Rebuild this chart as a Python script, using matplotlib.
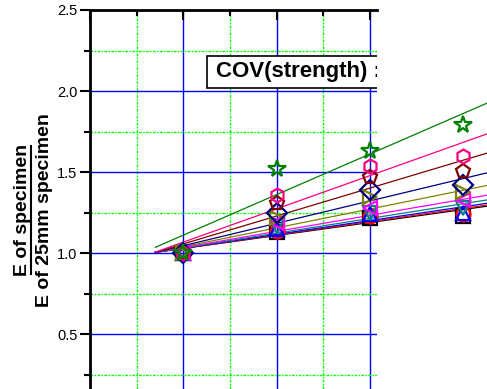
import matplotlib.pyplot as plt
from matplotlib.ticker import MultipleLocator
from matplotlib.patches import Rectangle
import numpy as np

plt.rcParams['font.family'] = ['Liberation Sans', 'DejaVu Sans']

# specimen size index (x) and normalised modulus values
x_vals = [1, 2, 3, 4]

colors = ['#008000', '#FF0080', '#800000', '#000080', '#808000',
          '#FF00FF', '#008080', '#0000FF', '#FF0000', '#000000']
markers = ['*', 'h', 'p', 'D', '>', '<', 'v', '^', 'o', 's']

ratios = [
    [1.00, 1.52, 1.63, 1.79],
    [1.00, 1.36, 1.54, 1.60],
    [1.00, 1.31, 1.47, 1.51],
    [1.00, 1.25, 1.39, 1.42],
    [1.00, 1.22, 1.35, 1.38],
    [1.00, 1.19, 1.28, 1.33],
    [1.00, 1.17, 1.25, 1.28],
    [1.00, 1.15, 1.24, 1.25],
    [1.00, 1.14, 1.23, 1.24],
    [1.00, 1.13, 1.22, 1.23],
]

# linear fit parameters (intercept, slope)
intercepts = [0.862, 0.864, 0.886, 0.909, 0.925, 0.937, 0.942, 0.947, 0.949, 0.950]
slopes = [0.250, 0.205, 0.172, 0.138, 0.116, 0.099, 0.091, 0.085, 0.082, 0.080]

fig = plt.figure(figsize=(4.87, 3.89), dpi=100)
ax = fig.add_axes([0.1848, 0.0, 0.5893, 0.9743])

ax.set_xlim(0, 3.076)
ax.set_ylim(0.1636, 2.5)
ax.xaxis.set_major_locator(MultipleLocator(1))
ax.xaxis.set_minor_locator(MultipleLocator(0.5))
ax.yaxis.set_major_locator(MultipleLocator(0.5))
ax.yaxis.set_minor_locator(MultipleLocator(0.25))

ax.grid(which='major', color='#0000FF', lw=1.0, ls='-')
ax.grid(which='minor', color='#00FF00', lw=1.0, ls=(0, (2, 1, 1, 1)))
ax.set_axisbelow(True)

for s in ['right', 'bottom']:
    ax.spines[s].set_visible(False)
for s in ['top', 'left']:
    ax.spines[s].set_linewidth(2)

ax.tick_params(axis='y', which='major', direction='out', length=7, width=1.5,
               labelsize=10.5, pad=2)
ax.tick_params(axis='y', which='minor', direction='out', length=4, width=1.5)
ax.tick_params(axis='x', which='both', top=True, bottom=False, labelbottom=False,
               direction='in', width=1.5)
ax.tick_params(axis='x', which='major', length=7)
ax.tick_params(axis='x', which='minor', length=4)
ax.yaxis.set_major_formatter(plt.FormatStrFormatter('%.1f'))

# draw from the last series to the first so the first ends on top
xfit = np.array([0.7, 4.6])
for c, m, y, a, b in list(zip(colors, markers, ratios, intercepts, slopes))[::-1]:
    ax.plot(xfit, a + b * xfit, color=c, lw=0.9, clip_on=False, zorder=3)
    ms = 13 if m == '*' else 10
    ax.plot(x_vals, y, ls='none', marker=m, ms=ms, mfc='none', mec=c, mew=1.6,
            clip_on=False, zorder=4)

# annotation box, cut at the right end of the frame
box = Rectangle((1.254, 2.021), 3.0, 0.197, fc='white', ec='black', lw=1.2,
                zorder=5, clip_on=True)
ax.add_patch(box)
ax.text(1.35, 2.118, 'COV(strength) :', fontsize=16, fontweight='bold',
        ha='left', va='center', clip_on=True, zorder=6)

# y-axis label drawn as a fraction
fig.text(27 / 487, 1 - 210 / 389, 'E of specimen', rotation=90, rotation_mode='anchor',
         fontsize=14, fontweight='bold', ha='center', va='baseline')
fig.text(49 / 487, 1 - 210 / 389, 'E of 25mm specimen', rotation=90,
         rotation_mode='anchor', fontsize=14, fontweight='bold',
         ha='center', va='baseline')
fig.add_artist(plt.Line2D([31 / 487, 31 / 487], [1 - 146 / 389, 1 - 274 / 389],
                          color='black', lw=1.5))

fig.savefig('out.png', dpi=100)
